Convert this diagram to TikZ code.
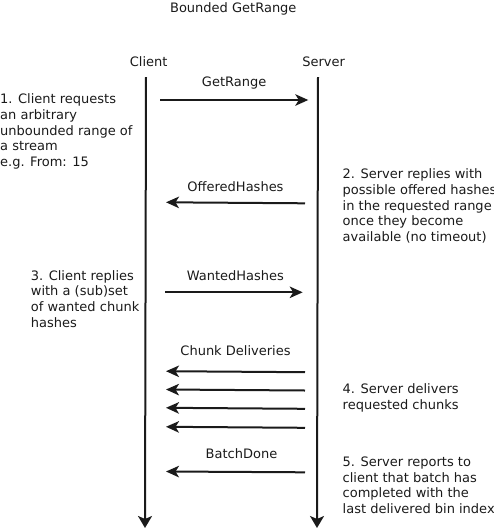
\documentclass[tikz,border=0pt]{standalone}
\usepackage{fontspec}
\setmainfont{DejaVu Sans}
\usetikzlibrary{arrows.meta,positioning}
\definecolor{ink}{HTML}{1A1A1A}

\begin{document}
\begin{tikzpicture}[x = 1pt, y = -1pt,
						every node/.style = {font = \fontsize{13}{15.8}\selectfont, color = ink},
						actor/.style = {inner sep = 0pt, anchor = base},
						note/.style = {inner sep = 0pt, anchor = north west, align = left},
						lifeline/.style = {draw = ink, line width = 2pt, -{Stealth[length = 12pt, width = 14pt, inset = 3pt]}},
						msg/.style = {draw = ink, line width = 2pt, -{Stealth[length = 13pt, width = 11.5pt, inset = 3.5pt]}},
						msglabel/.style = {inner sep = 0pt, anchor = base}]
		\useasboundingbox (0,0) rectangle (494,531);
		% Start of actors
		\node (title) at (233.3,12.3) [actor] {Bounded GetRange};
		\node (client) at (148.7,66.7) [actor] {Client};
		\node (server) at (323.7,66.7) [actor] {Server};
		\coordinate (clienttop) at (146,77);
		\coordinate (clientbottom) at (145,528);
		\coordinate (servertop) at (318,77);
		\coordinate (serverbottom) at (317,528);
		\draw [lifeline] (clienttop) -- (clientbottom);
		\draw [lifeline] (servertop) -- (serverbottom);
		% Start of messages
		\coordinate (getfrom) at (160,100);
		\coordinate (getto) at (308.3,100);
		\draw [msg] (getfrom) -- node [msglabel, yshift = 14pt] {GetRange} (getto);
		\coordinate (offerfrom) at (305,203.3);
		\coordinate (offerto) at (166,202.3);
		\draw [msg] (offerfrom) -- node [msglabel, yshift = 11pt] {OfferedHashes} (offerto);
		\coordinate (wantfrom) at (165,292.3);
		\coordinate (wantto) at (302.7,292.3);
		\draw [msg] (wantfrom) -- node [msglabel, yshift = 12.3pt, xshift = 1.5pt] {WantedHashes} (wantto);
		\coordinate (chunkfrom1) at (305,372.2);
		\coordinate (chunkto1) at (166,371.2);
		\coordinate [below = 18.3pt of chunkfrom1] (chunkfrom2);
		\coordinate [below = 18.3pt of chunkto1] (chunkto2);
		\coordinate [below = 18.3pt of chunkfrom2] (chunkfrom3);
		\coordinate [below = 18.3pt of chunkto2] (chunkto3);
		\coordinate [below = 19pt of chunkfrom3] (chunkfrom4);
		\coordinate [below = 19pt of chunkto3] (chunkto4);
		\draw [msg] (chunkfrom1) -- node [msglabel, yshift = 16pt] {Chunk Deliveries} (chunkto1);
		\draw [msg] (chunkfrom2) -- (chunkto2);
		\draw [msg] (chunkfrom3) -- (chunkto3);
		\draw [msg] (chunkfrom4) -- (chunkto4);
		\coordinate (donefrom) at (305,472.3);
		\coordinate (doneto) at (166,471.5);
		\draw [msg] (donefrom) -- node [msglabel, yshift = 13pt, xshift = 6pt] {BatchDone} (doneto);
		% Start of notes
		\node (note1) at (0,93.4) [note] {1. Client requests \\ an arbitrary \\ unbounded range of \\ a stream \\ e.g. From: 15};
		\node (note2) at (342.5,168.4) [note] {2. Server replies with \\ possible offered hashes \\ in the requested range \\ once they become \\ available (no timeout)};
		\node (note3) at (30.7,270.1) [note] {3. Client replies \\ with a (sub)set \\ of wanted chunk \\ hashes};
		\node (note4) at (342.5,383.4) [note] {4. Server delivers \\ requested chunks};
		\node (note5) at (342.5,456.4) [note] {5. Server reports to \\ client that batch has \\ completed with the \\ last delivered bin index};
	\end{tikzpicture}
\end{document}
